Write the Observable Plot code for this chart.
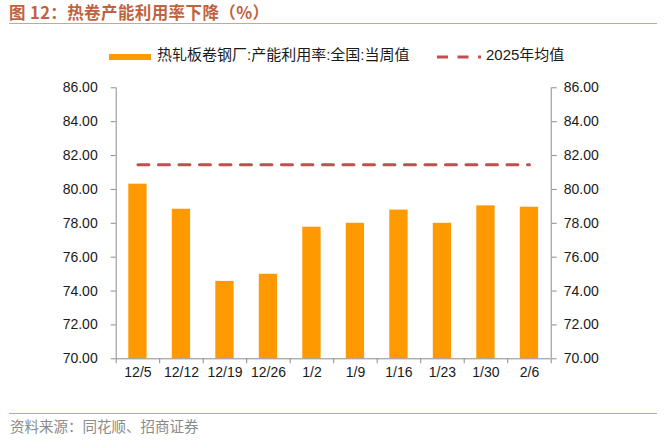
<!DOCTYPE html>
<html><head><meta charset="utf-8">
<script src="https://cdn.jsdelivr.net/npm/d3@7"></script>
<script src="https://cdn.jsdelivr.net/npm/@observablehq/plot@0.6"></script>
<style>
body{margin:0;background:#fff;}
#wrap{position:relative;width:665px;height:448px;overflow:hidden;font-family:"Liberation Sans",Arial,"Noto Sans CJK SC",sans-serif;}
#title{position:absolute;left:9px;top:2px;font-family:"Noto Sans CJK SC",sans-serif;font-weight:bold;font-size:16.5px;color:#c0623f;letter-spacing:0.4px;line-height:20px;}
#tline{position:absolute;left:9px;top:23px;width:648px;height:1px;background:#d9a18c;}
#legend{position:absolute;left:0;top:44px;width:665px;height:22px;font-size:15px;color:#1a1a1a;font-family:"Liberation Sans","Noto Sans CJK SC",sans-serif;}
.sw1{position:absolute;left:109px;top:10px;width:42px;height:6px;background:#ff9900;}
.t1{position:absolute;left:157px;top:2px;line-height:18px;}
.t2{position:absolute;left:486px;top:2px;line-height:18px;}
#chart{position:absolute;left:0;top:70px;}
#fline{position:absolute;left:9px;top:413px;width:648px;height:1px;background:#d9a18c;}
#foot{position:absolute;left:10px;top:417px;font-family:"Noto Sans CJK SC",sans-serif;font-size:14.5px;color:#8a8a8a;line-height:18px;}
</style></head>
<body><div id="wrap">
<div id="title">图 12：热卷产能利用率下降（%）</div>
<div id="tline"></div>
<div id="legend">
 <div class="sw1"></div><div class="t1">热轧板卷钢厂:产能利用率:全国:当周值</div>
 <svg style="position:absolute;left:437px;top:9px" width="44" height="8"><line x1="0" x2="44" y1="4" y2="4" stroke="#c0504d" stroke-width="3" stroke-dasharray="11,9.5"/></svg>
 <div class="t2">2025年均值</div>
</div>
<div id="chart"></div>
<div id="fline"></div>
<div id="foot">资料来源：同花顺、招商证券</div>
</div>
<script>
const categories = ["12/5","12/12","12/19","12/26","1/2","1/9","1/16","1/23","1/30","2/6"];
const utilization = [80.31, 78.83, 74.57, 74.99, 77.77, 78.00, 78.78, 78.00, 79.03, 78.95];
const avg2025 = 81.46;
const yTicks = [70,72,74,76,78,80,82,84,86];

const data = categories.map((c,i)=>({c, i, v: utilization[i]}));
const n = categories.length;
const axisColor = "#8c8c8c";

const plot = Plot.plot({
  width: 665,
  height: 320,
  marginLeft: 115.7,
  marginRight: 114.3,
  marginTop: 17.3,
  marginBottom: 31.7,
  style: {fontFamily: "'Liberation Sans', Arial, sans-serif", fontSize: "14px", color: "#1a1a1a", background: "transparent"},
  x: {type: "linear", domain: [0, n]},
  y: {domain: [70, 86]},
  marks: [
    Plot.rectY(data, {x1: d=>d.i, x2: d=>d.i+1, y1: 70, y2: "v", fill: "#ff9900", insetLeft: 12.6, insetRight: 12.6}),
    Plot.lineY(data, {x: d=>d.i+0.5, y: ()=>avg2025, stroke: "#c0504d", strokeWidth: 3, strokeDasharray: "11,9.5"}),
    Plot.ruleY([70], {stroke: axisColor, strokeWidth: 1}),
    Plot.ruleX([0, n], {stroke: axisColor, strokeWidth: 1}),
    Plot.axisY({anchor: "left", ticks: yTicks, tickFormat: d=>d.toFixed(2), tickSize: 5, tickPadding: 13.5, stroke: axisColor, fill: "#1a1a1a", label: null}),
    Plot.axisY({anchor: "right", ticks: yTicks, tickFormat: d=>d.toFixed(2), tickSize: 5, tickPadding: 7.5, stroke: axisColor, fill: "#1a1a1a", label: null}),
    Plot.axisX({ticks: d3.range(n+1), tickFormat: () => "", tickSize: 5, stroke: axisColor, label: null}),
    Plot.axisX({ticks: d3.range(n).map(i=>i+0.5), tickFormat: d => categories[Math.floor(d)], tickSize: 0, tickPadding: 8.7, fill: "#1a1a1a", label: null})
  ]
});
document.getElementById("chart").appendChild(plot);
</script>
</body></html>
